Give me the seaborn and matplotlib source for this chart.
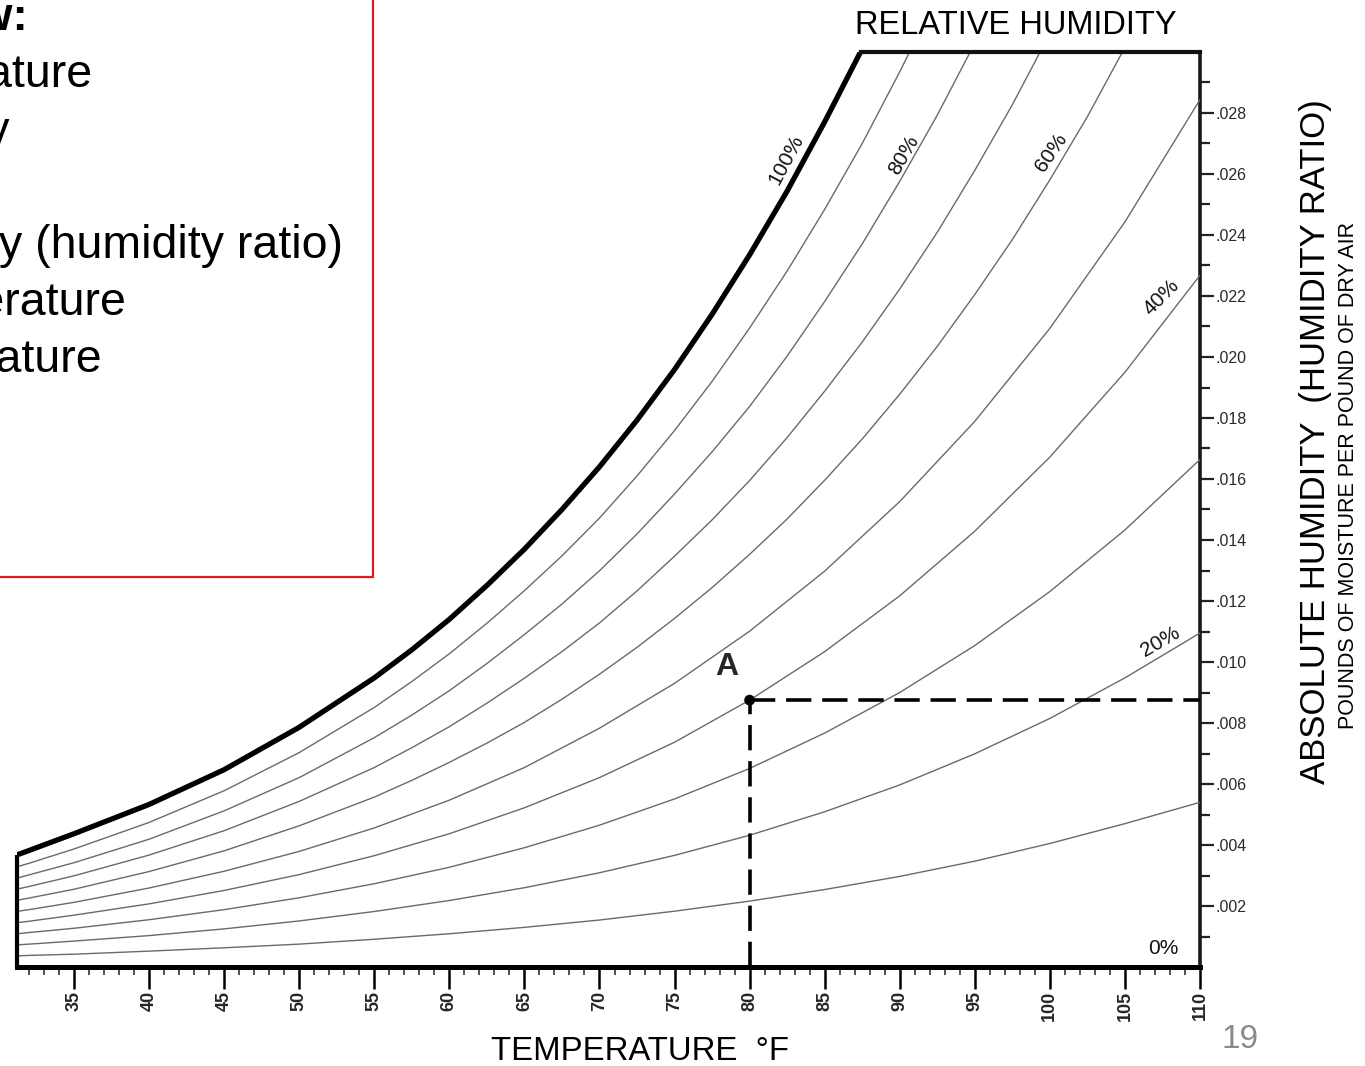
import matplotlib
matplotlib.use('Agg')
import matplotlib.pyplot as plt
from matplotlib.patches import Rectangle
from matplotlib.ticker import FixedLocator, FuncFormatter
import numpy as np
import seaborn as sns

sns.set_style('white')
plt.rcParams['font.family'] = ['Liberation Sans', 'DejaVu Sans']

##################################################################################
# chart data
##################################################################################
# dry bulb temperature, deg F (fine steps for the steep upper lines)
TEMPS_FINE = [31, 32, 35, 40, 45, 50, 55, 57.5, 60, 62.5, 65, 67.5, 70, 72.5, 75,
              77.5, 80, 82.5, 85, 87.5, 90, 92.5, 95, 97.5, 100, 102.5, 105]
# dry bulb temperature, deg F (lower lines)
TEMPS = [31, 32, 35, 40, 45, 50, 55, 60, 65, 70, 75, 80, 85, 90, 95, 100, 105, 110]

# humidity ratio (lb moisture / lb dry air) along each relative humidity line
W_100 = [0.00364, 0.00382, 0.00437, 0.00533, 0.00647, 0.00786, 0.00948, 0.01040,
         0.01140, 0.01251, 0.01370, 0.01500, 0.01640, 0.01793, 0.01959, 0.02140,
         0.02335, 0.02544, 0.02771, 0.03011]
W_90 = [0.00326, 0.00340, 0.00387, 0.00474, 0.00578, 0.00703, 0.00851, 0.00936,
        0.01027, 0.01127, 0.01234, 0.01348, 0.01472, 0.01610, 0.01759, 0.01920,
        0.02095, 0.02282, 0.02484, 0.02700, 0.02935, 0.03183]
W_80 = [0.00289, 0.00302, 0.00342, 0.00419, 0.00512, 0.00621, 0.00752, 0.00826,
        0.00906, 0.00995, 0.01090, 0.01190, 0.01299, 0.01420, 0.01551, 0.01689,
        0.01838, 0.02003, 0.02182, 0.02371, 0.02576, 0.02793, 0.03029]
W_70 = [0.00253, 0.00264, 0.00299, 0.00367, 0.00447, 0.00543, 0.00654, 0.00719,
        0.00788, 0.00865, 0.00947, 0.01034, 0.01128, 0.01233, 0.01347, 0.01466,
        0.01595, 0.01736, 0.01888, 0.02049, 0.02223, 0.02409, 0.02612, 0.02827,
        0.03061]
W_60 = [0.00217, 0.00226, 0.00255, 0.00313, 0.00381, 0.00463, 0.00557, 0.00612,
        0.00671, 0.00734, 0.00802, 0.00878, 0.00960, 0.01048, 0.01143, 0.01244,
        0.01353, 0.01469, 0.01596, 0.01731, 0.01878, 0.02035, 0.02205, 0.02385,
        0.02581, 0.02788, 0.03015]
W_50 = [0.00181, 0.00188, 0.00212, 0.00259, 0.00314, 0.00379, 0.00456, 0.00547,
        0.00654, 0.00783, 0.00930, 0.01101, 0.01298, 0.01526, 0.01789, 0.02094,
        0.02443, 0.02844]
W_40 = [0.00144, 0.00150, 0.00170, 0.00207, 0.00251, 0.00303, 0.00365, 0.00437,
        0.00522, 0.00621, 0.00737, 0.00875, 0.01034, 0.01217, 0.01429, 0.01672,
        0.01950, 0.02268]
W_30 = [0.00108, 0.00113, 0.00127, 0.00155, 0.00188, 0.00227, 0.00273, 0.00327,
        0.00391, 0.00465, 0.00551, 0.00651, 0.00767, 0.00900, 0.01054, 0.01231,
        0.01433, 0.01664]
W_20 = [0.00072, 0.00075, 0.00085, 0.00103, 0.00125, 0.00151, 0.00182, 0.00218,
        0.00260, 0.00309, 0.00366, 0.00432, 0.00509, 0.00597, 0.00699, 0.00815,
        0.00948, 0.01095]
W_10 = [0.00036, 0.00038, 0.00042, 0.00052, 0.00063, 0.00075, 0.00091, 0.00109,
        0.00130, 0.00154, 0.00183, 0.00216, 0.00254, 0.00297, 0.00347, 0.00405,
        0.00470, 0.00540]

UPPER_LINES = [W_90, W_80, W_70, W_60]
LOWER_LINES = [W_50, W_40, W_30, W_20, W_10]

# chart limits
X_MIN, X_MAX = 31.2, 110
W_TOP = 0.030
TOP_CORNER_T = 87.4

# state point A
POINT_A = (80, 0.00875)

# slide text box lines (the box runs off the left edge of the slide)
BOX_TITLE = 'Chart review:'
BOX_LINES = ['Dry bulb temperature', 'Relative humidity', 'Enthalpy',
             'Absolute humidity (humidity ratio)', 'Dew point temperature',
             'Wet bulb temperature']

##################################################################################
# figure
##################################################################################
W = 1365
H = 1066
fig = plt.figure(figsize=(W / 100, H / 100), dpi=100)
fig.patch.set_facecolor('white')


def fx(x):
    # pixel -> figure fraction
    return x / W


def fy(y):
    return 1 - y / H


ax = fig.add_axes([fx(17), fy(967), fx(1200) - fx(17), fy(52) - fy(967)])
ax.set_xlim(X_MIN, X_MAX)
ax.set_ylim(0, W_TOP)
ax.set_facecolor('white')

# relative humidity lines
for vals in UPPER_LINES:
    sns.lineplot(x=TEMPS_FINE[:len(vals)], y=vals, ax=ax, color='#6a6a6a', lw=1.0,
                 estimator=None, sort=False, zorder=3)
for vals in LOWER_LINES:
    sns.lineplot(x=TEMPS[:len(vals)], y=vals, ax=ax, color='#6a6a6a', lw=1.0,
                 estimator=None, sort=False, zorder=3)
# saturation line
sns.lineplot(x=TEMPS_FINE[:len(W_100)], y=W_100, ax=ax, color='black', lw=3.8,
             estimator=None, sort=False, zorder=4)

# chart border
w_left = np.interp(X_MIN, TEMPS_FINE[:len(W_100)], W_100)
ax.plot([X_MIN, X_MIN], [0, w_left], color='black', lw=3.0, clip_on=False,
        solid_capstyle='butt', zorder=5)
ax.plot([TOP_CORNER_T, X_MAX], [W_TOP, W_TOP], color='#111111', lw=3.0,
        clip_on=False, solid_capstyle='projecting', zorder=5)

for side in ['top', 'left']:
    ax.spines[side].set_visible(False)
ax.spines['bottom'].set_linewidth(3.6)
ax.spines['bottom'].set_color('black')
ax.spines['right'].set_linewidth(2.6)
ax.spines['right'].set_color('#1a1a1a')

# point A and dashed guides
ax.plot([POINT_A[0], POINT_A[0]], [0, POINT_A[1]], color='black', lw=2.6,
        ls=(0, (7, 3)), zorder=6)
ax.plot([POINT_A[0], X_MAX], [POINT_A[1], POINT_A[1]], color='black', lw=2.6,
        ls=(0, (7, 3)), zorder=6)
sns.scatterplot(x=[POINT_A[0]], y=[POINT_A[1]], ax=ax, color='black', s=60,
                edgecolor='none', zorder=7)
ax.text(78.5, 0.00984, 'A', fontsize=23, fontweight='bold', ha='center',
        va='center', zorder=7)

# humidity labels
lab_kw = dict(fontsize=15, ha='center', va='center', color='#111111')
ax.text(82.4, 0.02646, '100%', rotation=62, **lab_kw)
ax.text(90.3, 0.02662, '80%', rotation=60, **lab_kw)
ax.text(100.1, 0.02672, '60%', rotation=56, **lab_kw)
ax.text(107.45, 0.02197, '40%', rotation=45, **lab_kw)
ax.text(107.35, 0.01066, '20%', rotation=30, **lab_kw)
ax.text(107.55, 0.00062, '0%', **lab_kw)

# ticks
ax.xaxis.set_major_locator(FixedLocator(list(range(35, 111, 5))))
ax.xaxis.set_minor_locator(FixedLocator(list(range(32, 111, 1))))
ax.tick_params(axis='x', which='major', direction='out', length=16, width=1.8,
               labelsize=13, pad=1, labelrotation=90, bottom=True, color='black')
ax.tick_params(axis='x', which='minor', direction='out', length=6, width=1.2,
               bottom=True, color='#333333')
for lab in ax.get_xticklabels():
    lab.set_fontweight('bold')
ax.yaxis.tick_right()
ax.yaxis.set_major_locator(FixedLocator([v / 1000 for v in range(2, 29, 2)]))
ax.yaxis.set_minor_locator(FixedLocator([v / 1000 for v in range(1, 30, 2)]))
ax.yaxis.set_major_formatter(FuncFormatter(lambda v, p: ('%.3f' % v)[1:]))
ax.tick_params(axis='y', which='major', direction='out', length=10, width=1.6,
               labelsize=11.5, pad=1, right=True, left=False, color='#222222',
               labelcolor='#2a2a2a')
ax.tick_params(axis='y', which='minor', direction='out', length=7, width=1.6,
               right=True, left=False, color='#222222')
ax.set_xlabel('')
ax.set_ylabel('')

# chart titles
fig.text(fx(1016), fy(25), 'RELATIVE HUMIDITY', fontsize=23.5, ha='center',
         va='center', color='black')
fig.text(fx(640), fy(1052), 'TEMPERATURE  \u00b0F', fontsize=23.7, ha='center',
         va='center', color='black')
fig.text(fx(1315), fy(442), 'ABSOLUTE HUMIDITY  (HUMIDITY RATIO)', fontsize=25,
         rotation=90, ha='center', va='center', color='black')
fig.text(fx(1348), fy(475), 'POUNDS OF MOISTURE PER POUND OF DRY AIR',
         fontsize=15.5, rotation=90, ha='center', va='center', color='black')
fig.text(fx(1240), fy(1040), '19', fontsize=24, ha='center', va='center',
         color='#8a8a8a')

# slide text box (cut by the left edge)
fig.patches.append(Rectangle((fx(-20), fy(577)), fx(373) - fx(-20), fy(-20) - fy(577),
                             transform=fig.transFigure, facecolor='none',
                             edgecolor='#e3171d', lw=1.6))
fig.text(fx(28), fy(30), BOX_TITLE, fontsize=33.5, fontweight='bold',
         ha='right', va='baseline', color='black')
for i, line in enumerate(BOX_LINES):
    fig.text(fx(-345), fy(87 + 57 * i), line, fontsize=33.5, ha='left',
             va='baseline', color='black')

fig.savefig('out.png', dpi=100, facecolor='white')
